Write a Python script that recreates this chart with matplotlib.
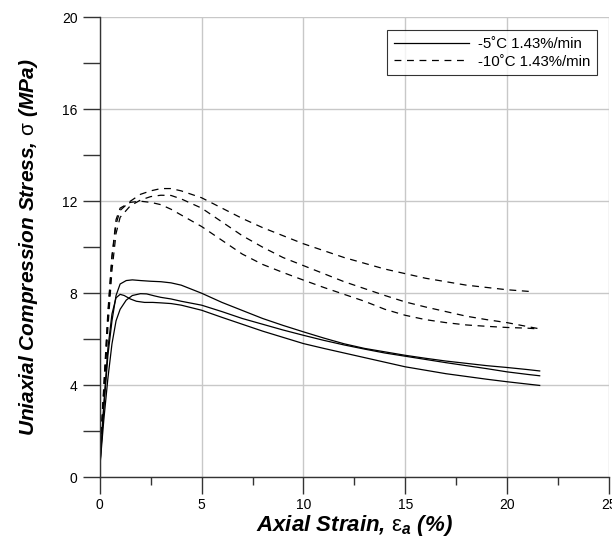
import numpy as np
import matplotlib.pyplot as plt
from matplotlib.ticker import MultipleLocator

plt.rcParams['font.family'] = ['Liberation Sans', 'DejaVu Sans']
plt.rcParams['mathtext.fontset'] = 'custom'
plt.rcParams['mathtext.rm'] = 'Liberation Sans'
plt.rcParams['mathtext.it'] = 'Liberation Sans:italic:bold'

# -5C 1.43%/min (three specimens)
s1_x = [0, 0.2, 0.4, 0.6, 0.8, 1.0, 1.3, 1.6, 2.0, 2.5, 3.0, 3.5, 4.0, 5.0, 6, 7, 8, 9, 10,
        11, 12, 13, 14, 15, 16, 17, 18, 19, 20, 21, 21.6]
s1_y = [0.4, 3.0, 5.3, 6.8, 7.9, 8.4, 8.55, 8.58, 8.55, 8.52, 8.5, 8.45, 8.35, 8.0, 7.6, 7.25,
        6.9, 6.6, 6.32, 6.05, 5.8, 5.6, 5.45, 5.3, 5.17, 5.05, 4.95, 4.85, 4.77, 4.68, 4.62]

s2_x = [0, 0.2, 0.4, 0.6, 0.8, 1.0, 1.2, 1.5, 1.8, 2.2, 2.6, 3.0, 3.5, 4.0, 5.0, 6, 7, 8, 9,
        10, 11, 12, 13, 14, 15, 16, 17, 18, 19, 20, 21, 21.6]
s2_y = [0.4, 3.2, 5.6, 7.1, 7.8, 7.95, 7.9, 7.75, 7.65, 7.6, 7.6, 7.58, 7.55, 7.48, 7.26, 6.95,
        6.65, 6.35, 6.08, 5.81, 5.6, 5.4, 5.2, 5.0, 4.8, 4.65, 4.5, 4.38, 4.26, 4.15, 4.05, 3.99]

s3_x = [0, 0.2, 0.4, 0.6, 0.8, 1.0, 1.3, 1.6, 2.0, 2.3, 2.7, 3.0, 3.5, 4.0, 5, 6, 7, 8, 9,
        10, 11, 12, 13, 14, 15, 16, 17, 18, 19, 20, 21, 21.6]
s3_y = [0.4, 2.5, 4.3, 5.8, 6.8, 7.3, 7.7, 7.9, 7.98, 7.97, 7.88, 7.82, 7.75, 7.65, 7.48, 7.2,
        6.9, 6.65, 6.4, 6.17, 5.95, 5.75, 5.57, 5.4, 5.26, 5.12, 4.98, 4.85, 4.72, 4.58, 4.47, 4.41]

# -10C 1.43%/min (three specimens)
d1_x = [0, 0.2, 0.4, 0.6, 0.8, 1.0, 1.5, 2.0, 2.5, 3.0, 3.5, 4.0, 5.0, 6.0, 7.0, 8.0, 9.0, 10,
        11, 12, 13, 14, 15, 16, 17, 18, 19, 20, 21.2]
d1_y = [0.8, 4.0, 7.2, 9.6, 11.0, 11.6, 12.0, 12.3, 12.45, 12.55, 12.55, 12.45, 12.15, 11.7,
        11.25, 10.85, 10.5, 10.15, 9.85, 9.55, 9.3, 9.05, 8.85, 8.65, 8.5, 8.35, 8.25, 8.15, 8.07]

d2_x = [0, 0.2, 0.4, 0.6, 0.8, 1.0, 1.5, 2.0, 2.5, 3.0, 3.5, 4.0, 5.0, 6.0, 7.0, 8.0, 9.0, 10,
        11, 12, 13, 14, 15, 16, 17, 18, 19, 20, 21, 21.6]
d2_y = [0.8, 3.5, 6.5, 9.0, 10.6, 11.3, 11.8, 12.05, 12.2, 12.26, 12.25, 12.1, 11.7, 11.1, 10.5,
        10.0, 9.55, 9.2, 8.85, 8.5, 8.2, 7.9, 7.62, 7.4, 7.2, 7.0, 6.85, 6.72, 6.55, 6.45]

d3_x = [0, 0.2, 0.4, 0.6, 0.8, 1.0, 1.5, 2.0, 2.5, 3.0, 3.5, 4.0, 5.0, 6.0, 7.0, 8.0, 9.0, 10,
        11, 12, 13, 14, 15, 16, 17, 18, 19, 20, 21, 21.5]
d3_y = [0.8, 3.8, 7.0, 9.6, 11.2, 11.7, 11.95, 12.0, 11.95, 11.85, 11.65, 11.4, 10.9, 10.3, 9.7,
        9.25, 8.9, 8.57, 8.25, 7.95, 7.65, 7.3, 7.04, 6.85, 6.72, 6.62, 6.56, 6.51, 6.48, 6.45]

fig = plt.figure(figsize=(6.12, 5.38), dpi=100)
ax = fig.add_axes([0.163, 0.113, 0.832, 0.855])

dash = (0, (5.5, 4.5))
ax.plot(s1_x, s1_y, color='black', lw=0.9, label='-5\u02daC 1.43%/min')
ax.plot(s2_x, s2_y, color='black', lw=0.9)
ax.plot(s3_x, s3_y, color='black', lw=0.9)
ax.plot(d1_x, d1_y, color='black', lw=0.9, ls=dash, label='-10\u02daC 1.43%/min')
ax.plot(d2_x, d2_y, color='black', lw=0.9, ls=dash)
ax.plot(d3_x, d3_y, color='black', lw=0.9, ls=dash)

ax.set_xlim(0, 25)
ax.set_ylim(0, 20)
ax.xaxis.set_major_locator(MultipleLocator(5))
ax.xaxis.set_minor_locator(MultipleLocator(2.5))
ax.yaxis.set_major_locator(MultipleLocator(4))
ax.yaxis.set_minor_locator(MultipleLocator(2))
ax.grid(True, which='major', color='#c8c8c8', lw=1)
ax.set_axisbelow(True)

for side in ['top', 'right']:
    ax.spines[side].set_visible(False)
for side in ['left', 'bottom']:
    ax.spines[side].set_color('#333333')
    ax.spines[side].set_linewidth(1)

ax.tick_params(axis='x', which='major', direction='out', length=12, width=1, pad=3,
               labelsize=10, colors='#333333', labelcolor='black')
ax.tick_params(axis='x', which='minor', direction='out', length=6, width=1, colors='#333333')
ax.tick_params(axis='y', which='both', direction='out', length=12, width=1, pad=4,
               labelsize=10, colors='#333333', labelcolor='black')

ax.set_xlabel(r'Axial Strain, $\mathrm{\varepsilon}_{a}$ (%)', fontsize=16,
              fontweight='bold', fontstyle='italic', labelpad=1)
ax.set_ylabel(r'Uniaxial Compression Stress, $\mathrm{\sigma}$ (MPa)', fontsize=15,
              fontweight='bold', fontstyle='italic', labelpad=16)

leg = ax.legend(loc='upper right', bbox_to_anchor=(0.976, 0.972), borderaxespad=0,
                fontsize=10.8, frameon=True, fancybox=False, handlelength=5.0,
                handletextpad=0.6, borderpad=0.45, labelspacing=0.25)
leg.get_frame().set_edgecolor('black')
leg.get_frame().set_linewidth(0.8)

fig.savefig('out.png', dpi=100)
